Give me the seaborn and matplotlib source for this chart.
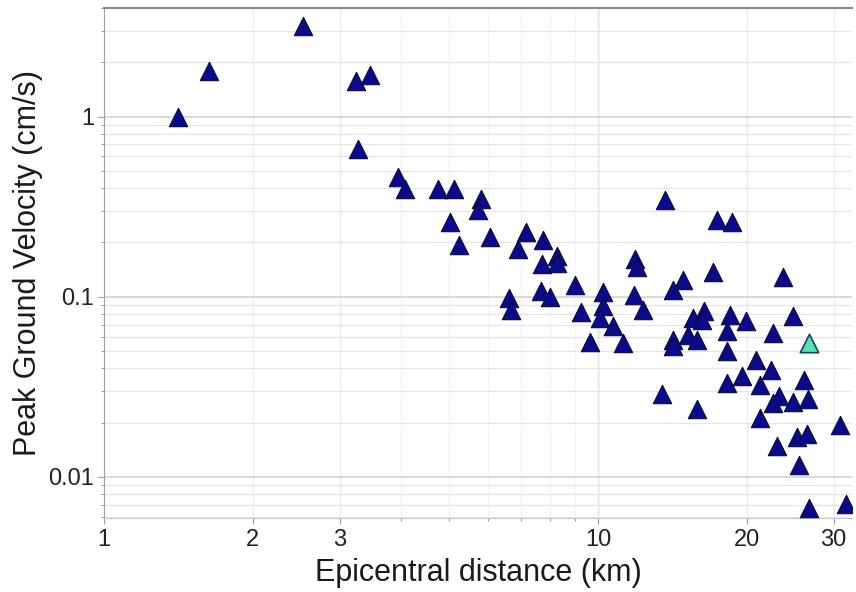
import matplotlib
matplotlib.use("Agg")
import matplotlib.pyplot as plt
import seaborn as sns
import pandas as pd
import numpy as np
from matplotlib.ticker import FixedLocator, NullFormatter, FixedFormatter

# Epicentral distance (km) and peak ground velocity (cm/s)
distance = [1.41, 1.63, 2.53, 3.24, 3.46, 3.27, 3.94, 4.07, 4.75, 5.11,
            5.80, 5.72, 5.03, 5.23, 6.05, 7.15, 6.90, 7.75, 8.25, 7.69,
            8.25, 13.66, 17.39, 18.65, 11.88, 11.98, 17.07, 14.88, 14.21, 23.72,
            6.61, 6.66, 7.66, 7.99, 8.98, 9.24, 10.25, 10.22, 10.09, 10.71,
            9.63, 11.22, 11.83, 12.35, 15.55, 16.39, 16.22, 15.23, 15.84, 14.17,
            14.21, 18.50, 19.93, 18.22, 22.63, 24.85, 18.27, 20.88, 22.37, 19.54,
            18.22, 21.28, 26.16, 23.28, 22.58, 24.85, 26.58, 13.46, 15.89, 21.28,
            30.99, 23.0, 25.25, 26.46, 25.56, 26.78, 31.77]
pgv = [1.00, 1.80, 3.16, 1.58, 1.69, 0.664, 0.464, 0.398, 0.397, 0.397,
       0.349, 0.302, 0.259, 0.193, 0.215, 0.228, 0.185, 0.206, 0.169, 0.151,
       0.154, 0.343, 0.268, 0.259, 0.161, 0.147, 0.138, 0.124, 0.109, 0.129,
       0.0984, 0.0847, 0.107, 0.0996, 0.1166, 0.0818, 0.1057, 0.0883, 0.0762, 0.069,
       0.0564, 0.0557, 0.1026, 0.0847, 0.0762, 0.0829, 0.0745, 0.0615, 0.0577, 0.0572,
       0.0534, 0.0794, 0.0729, 0.0642, 0.0633, 0.0777, 0.0497, 0.0447, 0.039, 0.0364,
       0.0332, 0.0324, 0.0343, 0.0282, 0.0257, 0.0262, 0.027, 0.0289, 0.0238, 0.0212,
       0.0195, 0.0149, 0.0166, 0.0173, 0.0117, 0.0067, 0.0071]

# Highlighted station
hl_distance = [26.78]
hl_pgv = [0.0553]

x_ticks = [1, 2, 3, 10, 20, 30]
x_ticklabels = ["1", "2", "3", "10", "20", "30"]
y_ticks = [0.01, 0.1, 1]
y_ticklabels = ["0.01", "0.1", "1"]

df = pd.DataFrame({"distance": distance, "pgv": pgv})
df_hl = pd.DataFrame({"distance": hl_distance, "pgv": hl_pgv})

sns.set_style("white")
plt.rcParams['font.family'] = ['Liberation Sans', 'DejaVu Sans']

fig = plt.figure(figsize=(8.56, 5.92), dpi=100)
ax = fig.add_axes([104/856, 1 - 518/592, (852 - 104)/856, (518 - 8)/592])

ax.set_xscale("log")
ax.set_yscale("log")
ax.set_xlim(1, 32.7)
ax.set_ylim(0.00592, 4.0)

xminor = [v * d for d in (1, 10) for v in range(2, 10) if v * d < 33]
yminor = [v * d for d in (0.001, 0.01, 0.1, 1) for v in range(2, 10) if 0.0059 < v * d < 4.1]
ax.xaxis.set_major_locator(FixedLocator(x_ticks))
ax.xaxis.set_major_formatter(FixedFormatter(x_ticklabels))
ax.xaxis.set_minor_locator(FixedLocator([v for v in xminor if v not in x_ticks]))
ax.xaxis.set_minor_formatter(NullFormatter())
ax.yaxis.set_major_locator(FixedLocator(y_ticks))
ax.yaxis.set_major_formatter(FixedFormatter(y_ticklabels))
ax.yaxis.set_minor_locator(FixedLocator(yminor))
ax.yaxis.set_minor_formatter(NullFormatter())

# horizontal grid
ax.grid(which="major", axis="y", color="#cfcfcf", linewidth=1.1)
ax.grid(which="minor", axis="y", color="#e6e6e6", linewidth=0.9)
# vertical grid: very light, except the decade line at 10
ax.grid(which="major", axis="x", color="#ececec", linewidth=1.0)
ax.grid(which="minor", axis="x", color="#f4f4f4", linewidth=0.9)
ax.axvline(10, color="#c4c4c4", linewidth=1.0, zorder=0.5)
ax.set_axisbelow(True)

sns.scatterplot(data=df, x="distance", y="pgv", marker="^", s=175,
                color="#0a0a8c", edgecolor="#0a0a3a", linewidth=0.8, ax=ax, zorder=3)
sns.scatterplot(data=df_hl, x="distance", y="pgv", marker="^", s=175,
                color="#52e3b4", edgecolor="#1f3f66", linewidth=1.2, ax=ax, zorder=4)

ax.spines["right"].set_visible(False)
ax.spines["top"].set_color("#8a8a8a")
ax.spines["top"].set_linewidth(1.5)
ax.spines["left"].set_color("#a0a0a0")
ax.spines["bottom"].set_color("#c8c8c8")

ax.tick_params(axis="both", which="both", bottom=True, left=True, top=False, right=False)
ax.tick_params(axis="both", which="major", labelsize=17, labelcolor="#222222",
               length=4, width=0.8, direction="out", color="#999999")
ax.tick_params(axis="both", which="minor", length=2, width=0.7, color="#999999")
ax.tick_params(axis="x", which="major", pad=4)
ax.tick_params(axis="y", which="major", pad=3)

ax.set_xlabel("Epicentral distance (km)", fontsize=22, color="#1a1a1a", labelpad=5)
ax.set_ylabel("Peak Ground Velocity (cm/s)", fontsize=22, color="#1a1a1a", labelpad=4)

fig.savefig("out.png", dpi=100)
